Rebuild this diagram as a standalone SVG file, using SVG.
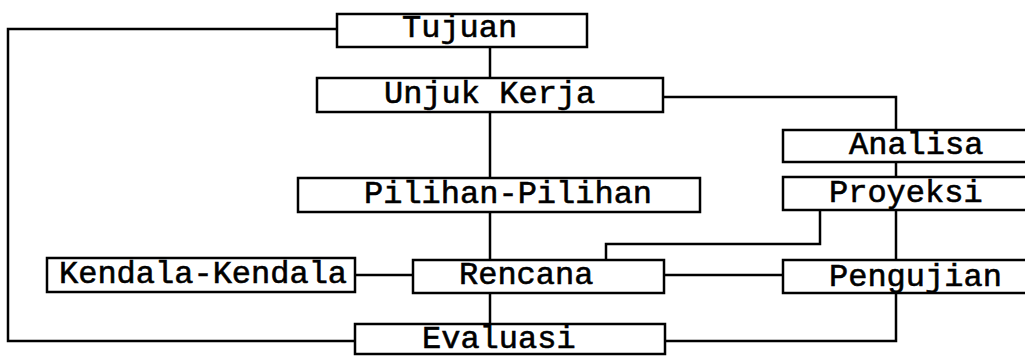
<svg xmlns="http://www.w3.org/2000/svg" width="1025" height="357" viewBox="0 0 1025 357">
  <style>
    .box { fill: #ffffff; stroke: #000000; stroke-width: 2.5; }
    .wire { fill: none; stroke: #000000; stroke-width: 2.5; stroke-linejoin: miter; }
    .lbl { font-family: "Liberation Mono", "DejaVu Sans Mono", monospace; font-size: 32px; fill: #000000; stroke: #000000; stroke-width: 0.6; }
  </style>
  <rect width="1025" height="357" fill="#ffffff"/>

  <!-- connectors -->
  <g id="connectors">
    <!-- central spine -->
    <line class="wire" x1="490" y1="47" x2="490" y2="78"/>
    <line class="wire" x1="490" y1="112" x2="490" y2="178"/>
    <line class="wire" x1="490" y1="212" x2="490" y2="260"/>
    <line class="wire" x1="490" y1="293" x2="490" y2="324"/>
    <!-- feedback loop: Evaluasi back to Tujuan -->
    <polyline class="wire" points="355,341 8,341 8,29 337,29"/>
    <!-- Unjuk Kerja to Analisa -->
    <polyline class="wire" points="663,97 896,97 896,130"/>
    <!-- Analisa / Proyeksi / Pengujian column -->
    <line class="wire" x1="896" y1="162" x2="896" y2="177"/>
    <line class="wire" x1="896" y1="210" x2="896" y2="260"/>
    <!-- Proyeksi to Rencana -->
    <polyline class="wire" points="820,210 820,244 606,244 606,260"/>
    <!-- Kendala-Kendala to Rencana -->
    <line class="wire" x1="355" y1="275" x2="413" y2="275"/>
    <!-- Rencana to Pengujian -->
    <line class="wire" x1="664" y1="275" x2="783" y2="275"/>
    <!-- Pengujian to Evaluasi -->
    <polyline class="wire" points="896,293 896,341 665,341"/>
  </g>

  <g id="tujuan">
    <rect class="box" x="337" y="14" width="250" height="33"/>
    <text class="lbl" x="402" y="37">Tujuan</text>
  </g>
  <g id="unjuk-kerja">
    <rect class="box" x="317" y="78" width="346" height="34"/>
    <text class="lbl" x="384" y="103">Unjuk Kerja</text>
  </g>
  <g id="pilihan">
    <rect class="box" x="298" y="178" width="402" height="34"/>
    <text class="lbl" x="364" y="203">Pilihan-Pilihan</text>
  </g>
  <g id="analisa">
    <rect class="box" x="783" y="130" width="260" height="32"/>
    <text class="lbl" x="849" y="154">Analisa</text>
  </g>
  <g id="proyeksi">
    <rect class="box" x="783" y="177" width="260" height="33"/>
    <text class="lbl" x="829" y="202">Proyeksi</text>
  </g>
  <g id="kendala">
    <rect class="box" x="47" y="258" width="308" height="34"/>
    <text class="lbl" x="59" y="283">Kendala-Kendala</text>
  </g>
  <g id="rencana">
    <rect class="box" x="413" y="260" width="251" height="33"/>
    <text class="lbl" x="459" y="284">Rencana</text>
  </g>
  <g id="pengujian">
    <rect class="box" x="783" y="260" width="260" height="33"/>
    <text class="lbl" x="829" y="286">Pengujian</text>
  </g>
  <g id="evaluasi">
    <rect class="box" x="355" y="324" width="310" height="30"/>
    <text class="lbl" x="422" y="348">Evaluasi</text>
  </g>
</svg>
